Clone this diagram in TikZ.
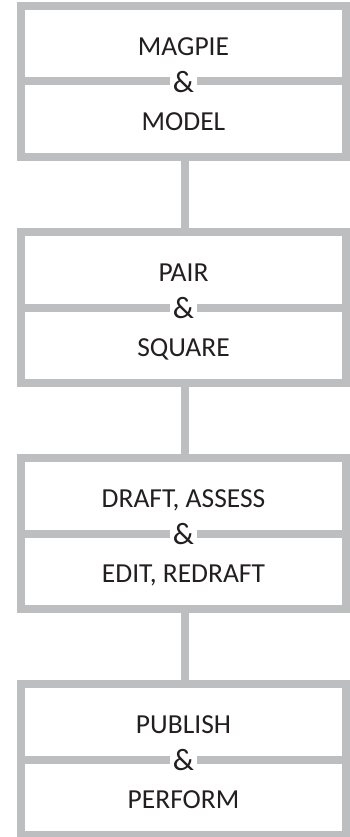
\documentclass[tikz,border=0pt]{standalone}
\usepackage{fontspec}
\setmainfont{Carlito}
\definecolor{boxgray}{HTML}{BCBEC0}
\definecolor{txt}{HTML}{231F20}
\begin{document}
\begin{tikzpicture}[x=1pt,y=1pt,
  stage/.style={draw=boxgray, line width=8pt, minimum width=325pt, minimum height=151pt, inner sep=0pt},
  link/.style={draw=boxgray, line width=8pt},
  lbl/.style={text=txt, font=\fontsize{27.5}{30}\selectfont, anchor=base, inner sep=0pt},
  amp/.style={text=txt, fill=white, font=\fontsize{31}{33}\selectfont, inner xsep=2.5pt, inner ysep=0pt}]
\useasboundingbox (0,0) rectangle (350,-837);
\foreach \i/\up/\down in {0/MAGPIE/MODEL, 1/PAIR/SQUARE, 2/{DRAFT, ASSESS}/{EDIT, REDRAFT}, 3/PUBLISH/PERFORM} {
  \pgfmathsetmacro\T{2+226*\i}
  \node[stage] (b\i) at (183.5,-\T-79.5) {};
  \draw[link] (b\i.west) -- (b\i.east);
  \node[lbl] (u\i) at (183.5,-\T-53.3) {\up};
  \node[lbl] (d\i) at (183.5,-\T-128.3) {\down};
  \node[amp] (a\i) at (183.5,-\T-80.5) {\&};
}
\draw[link] ([xshift=1pt]b0.south) -- ([xshift=1pt]b1.north);
\draw[link] ([xshift=1pt]b1.south) -- ([xshift=1pt]b2.north);
\draw[link] ([xshift=1pt]b2.south) -- ([xshift=1pt]b3.north);
\end{tikzpicture}
\end{document}
